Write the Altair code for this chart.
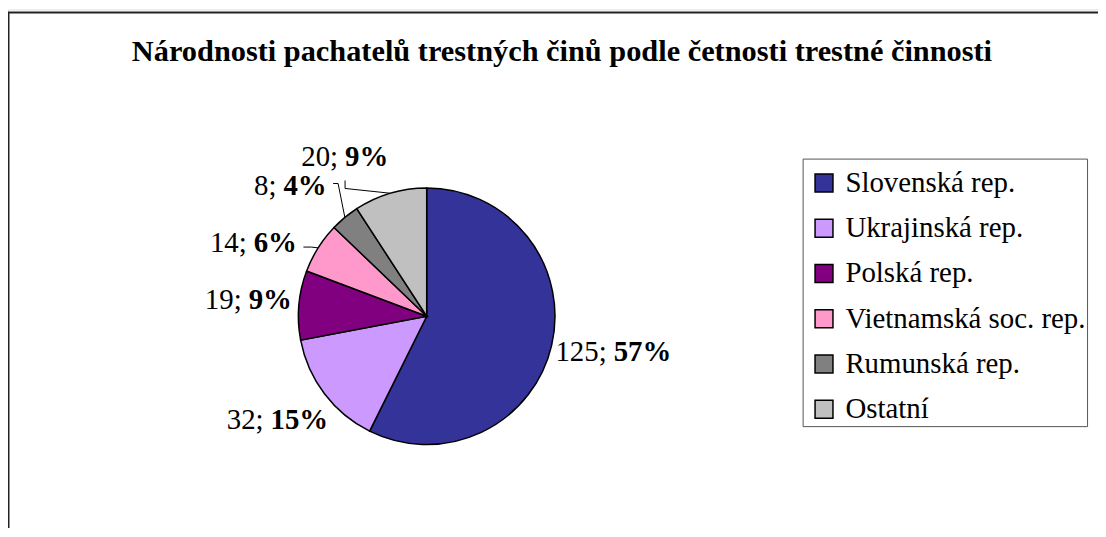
import math
import altair as alt
import pandas as pd

# ---- data -------------------------------------------------------------
categories = ["Slovenská rep.", "Ukrajinská rep.", "Polská rep.",
              "Vietnamská soc. rep.", "Rumunská rep.", "Ostatní"]
counts = [125, 32, 19, 14, 8, 20]
colors = ["#333399", "#CC99FF", "#800080", "#FF99CC", "#808080", "#C0C0C0"]
title_text = "Národnosti pachatelů trestných činů podle četnosti trestné činnosti"

# ---- layout (chart pixel coords) --------------------------------------
CX, CY, R = 421.0, 308.5, 129.0
# label anchor offsets from the slice mid-angle point on the pie edge
label_off_x = [58.9, -57.7, -54.0, -68.3, -65.3, -48.9]
label_off_y = [16.0, 35.6, 3.6, 4.2, -22.1, -27.8]
# leader lines (relative to label anchor): start point and elbow
leader_cats = ["Vietnamská soc. rep.", "Rumunská rep.", "Ostatní"]
leader_p0 = [(53.5, -5), (53.5, -12), (3.5, 15)]
leader_p1 = [(61.5, -5), (58.5, -12), (3.5, 23)]

FONT = "Liberation Serif"
FS = 29

total = sum(counts)
pie_df = pd.DataFrame({"cat": categories, "n": counts, "idx": range(len(counts))})

rows = []
edge = {}
anchor = {}
cum = 0
for i, (c, v) in enumerate(zip(categories, counts)):
    mid = (cum + v / 2) / total * 2 * math.pi
    cum += v
    ex = CX + R * math.sin(mid)
    ey = CY - R * math.cos(mid)
    edge[c] = (ex, ey)
    ax_, ay_ = ex + label_off_x[i], ey + label_off_y[i]
    anchor[c] = (ax_, ay_)
    rows.append({"cat": c, "x": ax_, "y": ay_, "num": f"{v};",
                 "pct": f"{round(v / total * 100)}%"})
lab_df = pd.DataFrame(rows)

lrows = []
for c, p0, p1 in zip(leader_cats, leader_p0, leader_p1):
    ax_, ay_ = anchor[c]
    pts = [(ax_ + p0[0], ay_ + p0[1]), (ax_ + p1[0], ay_ + p1[1]), edge[c]]
    for o, (x, y) in enumerate(pts):
        lrows.append({"cat": c, "o": o, "x": x, "y": y})
lead_df = pd.DataFrame(lrows)

# ---- chart ------------------------------------------------------------
one = pd.DataFrame({"a": [0]})
border = alt.Chart(one).mark_rect(
    fill="white", stroke="#222222", strokeWidth=2
).encode(x=alt.value(0.5), x2=alt.value(1300), y=alt.value(3), y2=alt.value(800))

legend_box = alt.Chart(one).mark_rect(
    fill="white", stroke="#555555", strokeWidth=1
).encode(x=alt.value(799.5), x2=alt.value(1085.5), y=alt.value(150.5), y2=alt.value(419.5))

title = alt.Chart(pd.DataFrame({"t": [title_text]})).mark_text(
    font=FONT, fontSize=30.5, fontWeight="bold", align="center",
    baseline="alphabetic", color="black"
).encode(x=alt.value(557), y=alt.value(52), text="t:N")

pie = alt.Chart(pie_df).mark_arc(
    radius=R, stroke="black", strokeWidth=1.5
).encode(
    x=alt.value(CX), y=alt.value(CY),
    theta=alt.Theta("n:Q", stack=True),
    order=alt.Order("idx:Q", sort="ascending"),
    color=alt.Color(
        "cat:N",
        scale=alt.Scale(domain=categories, range=colors),
        sort=categories,
        legend=alt.Legend(
            title=None, orient="none", legendX=806, legendY=160,
            symbolType="square", symbolSize=324, symbolStrokeColor="black",
            symbolStrokeWidth=1.5, symbolOpacity=1,
            labelFont=FONT, labelFontSize=FS, labelColor="black",
            labelOffset=7, rowPadding=15.5, padding=0, labelLimit=500,
        ),
    ),
)

leaders = alt.Chart(lead_df).mark_line(color="black", strokeWidth=1).encode(
    x=alt.X("x:Q", scale=None, axis=None),
    y=alt.Y("y:Q", scale=None, axis=None),
    detail="cat:N",
    order="o:Q",
)

num_txt = alt.Chart(lab_df).mark_text(
    font=FONT, fontSize=FS, align="right", baseline="alphabetic",
    dx=-3.5, color="black"
).encode(x=alt.X("x:Q", scale=None, axis=None),
         y=alt.Y("y:Q", scale=None, axis=None), text="num:N")

pct_txt = alt.Chart(lab_df).mark_text(
    font=FONT, fontSize=FS, fontWeight="bold", align="left",
    baseline="alphabetic", dx=3.5, color="black"
).encode(x=alt.X("x:Q", scale=None, axis=None),
         y=alt.Y("y:Q", scale=None, axis=None), text="pct:N")

chart = alt.layer(border, legend_box, title, pie, leaders, num_txt, pct_txt).properties(
    width=1096, height=520, padding=0, autosize="none"
).configure_view(stroke=None).configure(background="white")

chart.save("out.html", embed_options={"renderer": "svg", "actions": False})
